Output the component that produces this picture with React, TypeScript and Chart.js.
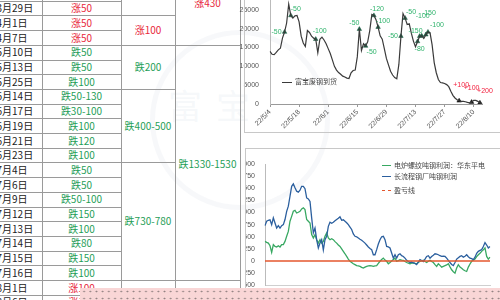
import React, { useEffect, useRef } from 'react';
import { Chart, registerables } from 'chart.js';

Chart.register(...registerables);

// ---------- price adjustment table ----------
const tableDates = ['3月29日', '4月1日', '4月7日', '5月10日', '5月13日', '5月25日', '6月14日', '6月17日', '6月19日', '6月21日', '6月23日', '7月4日', '7月6日', '7月9日', '7月12日', '7月13日', '7月14日', '7月15日', '7月16日', '8月1日', '8月6日'];
const tableChanges = ['涨50', '涨50', '涨50', '跌50', '跌50', '跌100', '跌50-130', '跌30-100', '跌100', '跌120', '跌100', '跌50', '跌50', '跌50-100', '跌150', '跌100', '跌80', '跌150', '跌100', '涨100', '涨100'];

// stage totals (merged cells, third column)
const stageTexts = ['', '涨100', '跌200', '跌400-500', '跌730-780', ''];
const stageFirstRow = [-2, 1, 3, 6, 11, 19];
const stageLastRow = [0, 2, 5, 10, 18, 22];

// round totals (merged cells, fourth column)
const roundTexts = ['涨430', '跌1330-1530', ''];
const roundFirstRow = [-3, 3, 19];
const roundLastRow = [2, 18, 22];

// ---------- scrap arrivals (daily, 22/5/4 onward) ----------
const scrapStart = new Date(2022, 4, 4);
const scrapValues = [
  13950, 13200, 13100, 13700, 14380, 14800, 17500, 19100, 21500, 26500,
  23500, 22800, 23400, 23500, 21800, 18000, 16200, 15280, 19500, 19000,
  18000, 17480, 17200, 13600, 17200, 17750, 17000, 16000, 14700, 13400,
  11700, 10000, 9000, 8350, 7900, 7400, 7170, 6880, 6750, 8300,
  8900, 9000, 12500, 19870, 14200, 16000, 15400, 16500, 19500, 23800,
  23500, 22400, 20400, 18100, 17200, 14700, 12100, 10400, 8700, 7700,
  7000, 6710, 10500, 18000, 24000, 22800, 21100, 21300, 18800, 16700,
  15200, 16600, 18000, 18100, 17400, 18400, 19100, 18900, 15700, 11000,
  8300, 6500, 5700, 5600, 5450, 5150, 4600, 3400, 2300, 1600,
  1150, 850, 700, 700, 600, 420, 300, 500, 970, 950,
  700, 300, 90,
];
const scrapTickEvery = 14;

// price moves marked on the arrivals line
const markerDays = [7, 10, 22, 43, 46, 50, 52, 63, 65, 71, 72, 73, 75, 76, 91, 97, 101];
const markerTexts = ['-50', '-50', '-100', '-50', '-50', '-120', '-100', '-50', '-50', '-150', '-80', '-100', '-150', '-100', '+100', '+100', '+200'];
// label placement relative to each marker
const markerLabelDx = [-8, 5, 4, -5, 6, 3, 5, -8, 6, -2, 0, 1, 3, 9, 2, 0, 5];
const markerLabelDy = [0, -6, -8, -6, 6, -6, -6, 0, -6, -10, 13, -20, -22, -7, -16, -14, -12];

// ---------- rebar profit per tonne ----------
const eafProfit = [
  405, 385, 370, 315, 180, 340, 300, 290, 315, 290,
  340, 340, 405, 510, 610, 820, 920, 1025, 1045, 990,
  1005, 1025, 1075, 1095, 1060, 855, 820, 785, 545, 475,
  545, 440, 370, 440, 370, 405, 510, 580, 475, 440,
  460, 440, 400, 370, 330, 300, 250, 200, 150, 95,
  40, -5, -30, -55, -75, -95, -100, -110, -130, -145,
  -125, -110, -100, -95, -100, -110, -100, -95, -50, -5,
  30, 60, 20, -5, -55, -30, 0, 30, 60, -5,
  10, 30, 20, 15, -10, -30, -45, -55, -45, -40,
  -50, -55, -30, -5, 5, 15, -10, -30, -5, 15,
  -10, -30, -75, -110, -55, -90, -125, -110, -95, -80,
  -55, -120, -180, -220, -250, -145, -75, -125, -150, -180,
  -200, -215, -125, -60, -5, 20, 40, 90, 130, 160,
  200, 230, 270, 95, 40, 80,
];
const bfProfit = [
  730, 820, 840, 850, 750, 890, 785, 680, 730, 680,
  730, 750, 855, 1025, 1130, 1335, 1540, 1590, 1510, 1440,
  1420, 1460, 1540, 1540, 1490, 1300, 1280, 1230, 890, 580,
  680, 440, 270, 370, 440, 230, 440, 510, 715, 800,
  780, 800, 830, 855, 880, 910, 840, 850, 820, 790,
  750, 700, 650, 560, 510, 500, 475, 450, 430, 400,
  370, 330, 290, 260, 235, 130, 130, 235, 350, 440,
  500, 510, 440, 300, 290, 270, 165, 60, 130, 60,
  130, 150, 110, 95, 60, 15, -10, -30, -20, -40,
  -50, -75, -20, 30, 10, -10, 40, 95, 110, 60,
  95, 120, 150, 140, 130, 110, 95, 100, 95, 60,
  15, -30, -70, -95, -30, 40, 70, 95, 110, 80,
  100, 130, 90, 60, 50, 30, 80, 160, 200, 220,
  235, 300, 380, 330, 270, 300,
];
const profitLegend = ['电炉螺纹吨钢利润：华东平电', '长流程钢厂吨钢利润', '盈亏线'];

const RED = '#e8283c';
const GREEN = '#1f9e58';
const EAF_COLOR = '#38a862';
const BF_COLOR = '#2b5f9e';
const BREAKEVEN_COLOR = '#e4572e';
const TICK_FONT = { family: '"Liberation Sans", Arial, sans-serif', size: 7 };
const plainNumber = (v: any) => String(v);

const ROW_TOP = 0.7;
const ROW_H = 14.7;
const rowY = (i: number) => ROW_TOP + i * ROW_H;

const scrapLabels = scrapValues.map((_, i) => {
  const d = new Date(scrapStart.getTime());
  d.setDate(d.getDate() + i);
  return `22/${d.getMonth() + 1}/${d.getDate()}`;
});

const markerLabelPlugin = {
  id: 'markerLabels',
  afterDatasetsDraw(chart: any) {
    const meta = chart.getDatasetMeta(1);
    const ctx = chart.ctx;
    ctx.save();
    ctx.font = '7px "Liberation Sans", Arial, sans-serif';
    ctx.textAlign = 'center';
    ctx.textBaseline = 'middle';
    meta.data.forEach((pt: any, i: number) => {
      const text = markerTexts[i];
      ctx.fillStyle = text.startsWith('+') ? '#f2203e' : '#2fb36c';
      ctx.fillText(text, pt.x + markerLabelDx[i], pt.y + markerLabelDy[i]);
    });
    ctx.restore();
  },
};

function ScrapChart() {
  const ref = useRef<HTMLCanvasElement>(null);
  useEffect(() => {
    const chart = new Chart(ref.current!, {
      type: 'line',
      data: {
        labels: scrapLabels,
        datasets: [
          {
            label: '富宝废钢到货',
            data: scrapValues,
            borderColor: '#3a3a3a',
            borderWidth: 1.2,
            pointRadius: 0,
            tension: 0,
          },
          {
            label: 'marks',
            data: markerDays.map((d) => ({ x: scrapLabels[d], y: scrapValues[d] })) as any,
            showLine: false,
            pointStyle: 'triangle',
            pointRadius: 2.6,
            pointBackgroundColor: markerTexts.map((t) => (t.startsWith('+') ? '#111' : '#1d5a42')),
            pointBorderColor: markerTexts.map((t) => (t.startsWith('+') ? '#111' : '#1d5a42')),
            pointBorderWidth: 0.5,
          },
        ],
      },
      options: {
        animation: false,
        responsive: false,
        events: [],
        layout: { padding: { top: 11, right: 18, left: 0, bottom: 0 } },
        plugins: { legend: { display: false }, tooltip: { enabled: false } },
        scales: {
          x: {
            type: 'category',
            offset: false,
            afterFit: (s: any) => { s.height = 29; s.paddingLeft = 0; },
            grid: { display: true, drawOnChartArea: false, drawTicks: true, tickLength: 3, color: '#999' },
            border: { display: true, color: '#999' },
            ticks: {
              autoSkip: false,
              minRotation: 45,
              maxRotation: 45,
              padding: 1,
              color: '#555',
              font: TICK_FONT,
              callback: (_v: any, i: number) => (i % scrapTickEvery === 0 ? scrapLabels[i] : null),
            },
          },
          y: {
            min: 0,
            max: 30000,
            afterFit: (s: any) => { s.width = 46; },
            grid: { display: false },
            border: { display: true, color: '#bbb' },
            ticks: { stepSize: 5000, padding: 3, color: '#555', font: TICK_FONT, callback: plainNumber },
          },
        },
      },
      plugins: [markerLabelPlugin],
    });
    return () => chart.destroy();
  }, []);
  return <canvas ref={ref} width={276} height={153} style={{ position: 'absolute', left: 224, top: -20 }} />;
}

function ProfitChart() {
  const ref = useRef<HTMLCanvasElement>(null);
  useEffect(() => {
    const chart = new Chart(ref.current!, {
      type: 'line',
      data: {
        labels: eafProfit.map((_, i) => String(i)),
        datasets: [
          {
            label: profitLegend[2],
            data: eafProfit.map(() => 0),
            borderColor: BREAKEVEN_COLOR,
            borderWidth: 1.5,
            pointRadius: 0,
          },
          {
            label: profitLegend[1],
            data: bfProfit,
            borderColor: BF_COLOR,
            borderWidth: 1.3,
            pointRadius: 0,
            tension: 0,
          },
          {
            label: profitLegend[0],
            data: eafProfit,
            borderColor: EAF_COLOR,
            borderWidth: 1.3,
            pointRadius: 0,
            tension: 0,
          },
        ],
      },
      options: {
        animation: false,
        responsive: false,
        events: [],
        layout: { padding: { top: 16, right: 10, left: 0, bottom: 14.7 } },
        plugins: { legend: { display: false }, tooltip: { enabled: false } },
        scales: {
          x: {
            offset: false,
            afterFit: (s: any) => { s.height = 0; },
            grid: { display: false },
            border: { display: true, color: '#cfcfcf' },
            ticks: { display: false },
          },
          y: {
            min: -500,
            max: 2000,
            afterFit: (s: any) => { s.width = 20; },
            grid: { display: false },
            border: { display: true, color: '#bbb' },
            ticks: { stepSize: 250, padding: 2, color: '#555', font: TICK_FONT, callback: plainNumber },
          },
        },
      },
    });
    return () => chart.destroy();
  }, []);
  return <canvas ref={ref} width={255} height={152} style={{ position: 'absolute', left: 245, top: 148 }} />;
}

const cellText = (text: string) => ({ color: text.startsWith('涨') ? RED : GREEN });
const CJK = '"Noto Sans CJK SC", "Noto Sans", sans-serif';
const LINE = '#9a9a9a';

function PriceTable() {
  const hLines: React.ReactNode[] = [];
  for (let i = 0; i <= tableDates.length; i++) {
    hLines.push(<div key={'h' + i} style={{ position: 'absolute', left: 0, width: 121, top: rowY(i), height: 1, background: LINE }} />);
  }
  stageFirstRow.forEach((f, i) => {
    hLines.push(<div key={'s' + i} style={{ position: 'absolute', left: 121, width: 54, top: rowY(f), height: 1, background: LINE }} />);
  });
  roundFirstRow.forEach((f, i) => {
    hLines.push(<div key={'r' + i} style={{ position: 'absolute', left: 175, width: 65, top: rowY(f), height: 1, background: LINE }} />);
  });
  const vLines = [42, 121, 175, 240].map((x) => (
    <div key={'v' + x} style={{ position: 'absolute', left: x, top: 0, width: 1, height: 300, background: LINE }} />
  ));
  const textStyle: React.CSSProperties = { position: 'absolute', fontFamily: CJK, fontSize: 10, lineHeight: '14px', whiteSpace: 'nowrap' };
  return (
    <>
      {hLines}
      {vLines}
      {tableDates.map((d, i) => (
        <div key={'d' + i} style={{ ...textStyle, left: -3.5, top: rowY(i) + 0.5, color: '#222' }}>{d}</div>
      ))}
      {tableChanges.map((c, i) => (
        <div key={'c' + i} style={{ ...textStyle, left: 42, width: 79, textAlign: 'center', top: rowY(i) + 0.5, ...cellText(c) }}>{c}</div>
      ))}
      {stageTexts.map((t, i) => (
        <div key={'st' + i} style={{ ...textStyle, left: 121, width: 54, textAlign: 'center', top: (rowY(stageFirstRow[i]) + rowY(stageLastRow[i] + 1)) / 2 - 7, ...cellText(t) }}>{t}</div>
      ))}
      {roundTexts.map((t, i) => (
        <div key={'rt' + i} style={{ ...textStyle, left: 175, width: 65, textAlign: 'center', top: (rowY(roundFirstRow[i]) + rowY(roundLastRow[i] + 1)) / 2 - 5, ...cellText(t) }}>{t}</div>
      ))}
    </>
  );
}

export default function App() {
  const legendText: React.CSSProperties = { position: 'absolute', fontFamily: CJK, fontSize: 7, lineHeight: '9px', color: '#444', whiteSpace: 'nowrap' };
  return (
    <div style={{ position: 'fixed', left: 0, top: 0, width: 500, height: 300, overflow: 'hidden', background: '#fff' }}>
      {/* faint logo watermark */}
      <div style={{ position: 'absolute', left: 150, top: 30, width: 170, height: 170, borderRadius: '50%', border: '5px solid rgba(190,202,220,0.13)' }} />
      <div style={{ position: 'absolute', left: 168, top: 80, fontFamily: CJK, fontSize: 34, letterSpacing: 14, color: 'rgba(190,202,220,0.14)', whiteSpace: 'nowrap' }}>富宝</div>

      <PriceTable />

      <ScrapChart />
      <ProfitChart />

      {/* chart frames */}
      <div style={{ position: 'absolute', left: 244, top: -2, width: 262, height: 135, border: '1px solid #c8c8c8', boxSizing: 'border-box' }} />
      <div style={{ position: 'absolute', left: 245, top: 148, width: 262, height: 160, border: '1px solid #c8c8c8', boxSizing: 'border-box' }} />

      {/* legend of the arrivals chart */}
      <div style={{ position: 'absolute', left: 282, top: 81.5, width: 10, height: 1.2, background: '#3a3a3a' }} />
      <div style={{ ...legendText, left: 295, top: 77 }}>富宝废钢到货</div>

      {/* legend of the profit chart */}
      <div style={{ position: 'absolute', left: 382, top: 164.5, width: 9, height: 1.4, background: EAF_COLOR }} />
      <div style={{ ...legendText, left: 394, top: 160.5 }}>{profitLegend[0]}</div>
      <div style={{ position: 'absolute', left: 382, top: 176, width: 9, height: 1.4, background: BF_COLOR }} />
      <div style={{ ...legendText, left: 394, top: 172 }}>{profitLegend[1]}</div>
      <div style={{ position: 'absolute', left: 382, top: 189.5, width: 3, height: 1.4, background: BREAKEVEN_COLOR }} />
      <div style={{ position: 'absolute', left: 387.5, top: 189.5, width: 3, height: 1.4, background: BREAKEVEN_COLOR }} />
      <div style={{ ...legendText, left: 394, top: 185.5 }}>{profitLegend[2]}</div>

      {/* dotted pink strip across the bottom */}
      <div
        style={{
          position: 'absolute', left: 80, top: 288, width: 420, height: 14,
          backgroundColor: '#f9d6d6',
          backgroundImage: 'radial-gradient(circle, rgba(110,100,100,0.75) 0.7px, transparent 1.1px)',
          backgroundSize: '6.2px 7px',
          backgroundPosition: '1px 0px',
        }}
      />
    </div>
  );
}
